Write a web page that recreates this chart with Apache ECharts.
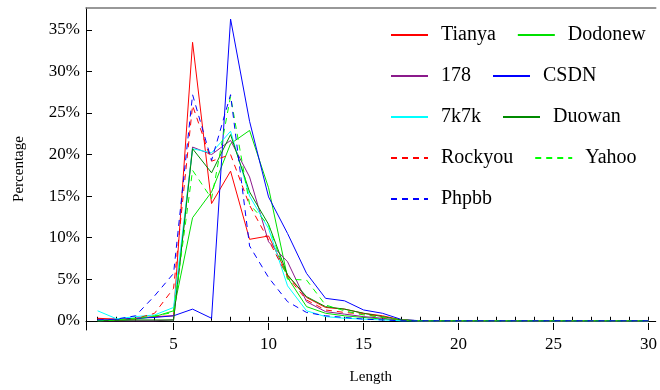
<!DOCTYPE html>
<html>
<head>
<meta charset="utf-8">
<script src="https://cdn.jsdelivr.net/npm/echarts@6/dist/echarts.min.js"></script>
<style>
  html, body { margin: 0; padding: 0; background: #fff; }
  #chart { width: 660px; height: 390px; }
</style>
</head>
<body>
<div id="chart"></div>
<script>
// password length distribution (%), lengths 1..30
const LENGTHS = [1, 2, 3, 4, 5, 6, 7, 8, 9, 10, 11, 12, 13, 14, 15, 16, 17, 18, 19, 20, 21, 22, 23, 24, 25, 26, 27, 28, 29, 30];
const X_TICKS = [1, 2, 3, 4, 5, 6, 7, 8, 9, 10, 11, 12, 13, 14, 15, 16, 17, 18, 19, 20, 21, 22, 23, 24, 25, 26, 27, 28, 29, 30];
const X_LABELS = [5, 10, 15, 20, 25, 30];
const Y_TICKS = [0, 5, 10, 15, 20, 25, 30, 35];

const tianya  = [0.3, 0.2, 0.3, 0.5, 0.6, 33.5, 14.1, 18.0, 9.8, 10.2, 5.5, 2.8, 1.6, 1.4, 0.9, 0.6, 0.1, 0, 0, 0, 0, 0, 0, 0, 0, 0, 0, 0, 0, 0];
const dodonew = [0, 0.05, 0.2, 0.5, 1.2, 12.4, 15.5, 21.3, 22.9, 16.0, 5.2, 1.7, 0.9, 0.6, 0.4, 0.2, 0.05, 0, 0, 0, 0, 0, 0, 0, 0, 0, 0, 0, 0, 0];
const n178    = [0, 0, 0, 0, 0.1, 20.9, 20.0, 21.7, 17.3, 9.5, 7.1, 2.3, 1.1, 0.8, 0.5, 0.3, 0.05, 0, 0, 0, 0, 0, 0, 0, 0, 0, 0, 0, 0, 0];
const csdn    = [0.1, 0.15, 0.3, 0.4, 0.6, 1.4, 0.3, 36.3, 24.0, 14.9, 10.5, 5.7, 2.7, 2.4, 1.3, 0.9, 0.15, 0, 0, 0, 0, 0, 0, 0, 0, 0, 0, 0, 0, 0];
const k7k7    = [1.2, 0.24, 0.5, 0.7, 1.6, 20.7, 20.2, 22.8, 15.0, 11.1, 4.2, 1.2, 0.5, 0.3, 0.2, 0.1, 0, 0, 0, 0, 0, 0, 0, 0, 0, 0, 0, 0, 0, 0];
const duowan  = [0.05, 0.05, 0.1, 0.1, 0.1, 20.7, 17.8, 22.4, 15.5, 11.6, 5.5, 2.9, 1.7, 1.4, 0.9, 0.5, 0.1, 0, 0, 0, 0, 0, 0, 0, 0, 0, 0, 0, 0, 0];
const rockyou = [0.25, 0.1, 0.25, 0.9, 3.9, 25.9, 19.2, 20.0, 13.9, 9.7, 5.3, 2.5, 1.3, 1.0, 0.8, 0.4, 0.1, 0, 0, 0, 0, 0, 0, 0, 0, 0, 0, 0, 0, 0];
const yahoo   = [0, 0.1, 0.3, 0.6, 1.0, 18.1, 14.7, 27.0, 14.0, 11.5, 5.0, 4.9, 1.9, 1.2, 0.7, 0.4, 0.1, 0, 0, 0, 0, 0, 0, 0, 0, 0, 0, 0, 0, 0];
const phpbb   = [0.1, 0.2, 0.6, 3.0, 5.7, 27.2, 19.3, 27.2, 9.0, 5.2, 2.3, 1.0, 0.6, 0.4, 0.2, 0.1, 0, 0, 0, 0, 0, 0, 0, 0, 0, 0, 0, 0, 0, 0];

const FONT = 'Liberation Serif';
const X_MIN = 0.39, X_MAX = 30.38;
const Y_MIN = -1.11, Y_MAX = 37.63;

const pairs = (vals) => LENGTHS.map((l, i) => [l, vals[i]]);
const line = (name, vals, color, dashed) => ({
  name, type: 'line', data: pairs(vals), symbol: 'none', xAxisIndex: 0, yAxisIndex: 0,
  lineStyle: { color, width: 1, type: dashed ? [6, 5] : 'solid' },
  itemStyle: { color: 'rgba(0,0,0,0)', borderWidth: 0 },
});

const chart = echarts.init(document.getElementById('chart'), null, { renderer: 'canvas' });
chart.setOption({
  animation: false,
  textStyle: { fontFamily: FONT },
  grid: { left: 86, right: 2, top: 8, bottom: 58, containLabel: false },
  legend: {
    left: 390, top: 25, width: 265, padding: 0, itemWidth: 37, itemHeight: 14, itemGap: 21,
    itemStyle: { opacity: 0 },
    formatter: '{t|{name}}',
    textStyle: {
      color: '#000',
      rich: { t: { fontFamily: FONT, fontSize: 20, color: '#000', lineHeight: 21, padding: [0, 0, 0, 8] } },
    },
    data: ['Tianya', 'Dodonew', '178', 'CSDN', '7k7k', 'Duowan', 'Rockyou', 'Yahoo', 'Phpbb'],
  },
  xAxis: [
    {
      type: 'value', min: X_MIN, max: X_MAX, position: 'bottom',
      axisLine: { lineStyle: { color: '#000', width: 1 } },
      axisTick: { inside: true, length: 4, customValues: X_TICKS, lineStyle: { color: '#000' } },
      axisLabel: { show: false }, splitLine: { show: false },
    },
    {
      type: 'value', min: X_MIN, max: X_MAX, position: 'bottom',
      name: 'Length', nameLocation: 'middle', nameGap: 40,
      nameTextStyle: { fontFamily: FONT, fontSize: 15, color: '#000' },
      axisLine: { show: false },
      axisTick: { inside: true, length: 7, customValues: X_LABELS, lineStyle: { color: '#000' } },
      axisLabel: { customValues: X_LABELS, margin: 6, color: '#000', fontSize: 17, fontFamily: FONT },
      splitLine: { show: false },
    },
    {
      type: 'value', min: X_MIN, max: X_MAX, position: 'top',
      axisLine: { lineStyle: { color: '#777', width: 1.5 } },
      axisTick: { show: false }, axisLabel: { show: false }, splitLine: { show: false },
    },
  ],
  yAxis: {
    type: 'value', min: Y_MIN, max: Y_MAX,
    name: 'Percentage', nameLocation: 'middle', nameGap: 59, nameRotate: 90,
    nameTextStyle: { fontFamily: FONT, fontSize: 15, color: '#000' },
    axisLine: { lineStyle: { color: '#000', width: 1 } },
    axisTick: { inside: true, length: 6, customValues: Y_TICKS, lineStyle: { color: '#000' } },
    axisLabel: { customValues: Y_TICKS, formatter: '{value}%', margin: 6, color: '#000', fontSize: 17, fontFamily: FONT },
    splitLine: { show: false },
  },
  series: [
    line('Tianya', tianya, '#ff0000', false),
    line('Dodonew', dodonew, '#00e000', false),
    line('178', n178, '#8b1a8b', false),
    line('CSDN', csdn, '#0000ff', false),
    line('7k7k', k7k7, '#00ffff', false),
    line('Duowan', duowan, '#008a00', false),
    line('Rockyou', rockyou, '#ff0000', true),
    line('Yahoo', yahoo, '#00ff00', true),
    line('Phpbb', phpbb, '#0000ff', true),
  ],
});
</script>
</body>
</html>
